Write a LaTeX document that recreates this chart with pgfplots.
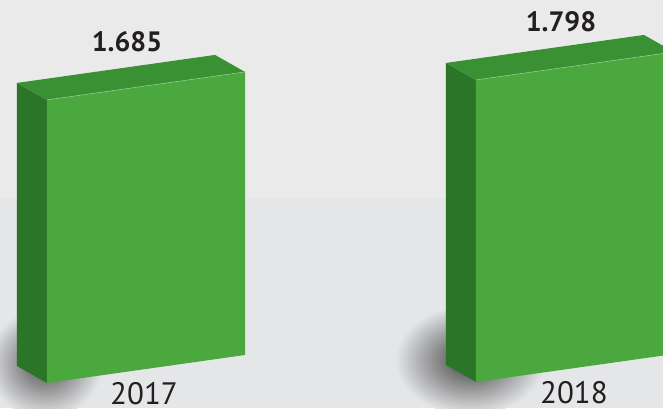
\documentclass[border=0pt]{standalone}
\usepackage{pgfplots}
\pgfplotsset{compat=1.18}
\usepackage{fontspec}
\setmainfont{PT Sans}
\usetikzlibrary{backgrounds,calc}
\definecolor{bgtop}{RGB}{234,234,235}
\definecolor{bgbot}{RGB}{229,230,232}
\definecolor{frontg}{RGB}{74,168,62}
\definecolor{sideg}{RGB}{42,117,39}
\definecolor{topg}{RGB}{58,145,52}
\definecolor{txt}{RGB}{35,31,32}

\begin{document}
\begin{tikzpicture}
\begin{axis}[
    x={(198pt,28pt)}, y={(-30pt,17pt)}, z={(0pt,168pt)},
    xmin=0, xmax=3, ymin=-3, ymax=1, zmin=0, zmax=2,
    hide axis,
    clip=false,
    nodes near coords style={anchor=base, yshift=26pt, inner sep=0pt,
        font=\bfseries\fontsize{28}{28}\selectfont, text=txt},
    /pgf/number format/.cd, fixed, precision=3, fixed zerofill, assume math mode=true,
]
\coordinate (O) at (axis cs:0,0,0);

% 2017 box
\addplot3[fill=sideg, draw=none] coordinates {(0,0,0) (0,1,0) (0,1,1.685) (0,0,1.685)};
\addplot3[fill=topg, draw=none] coordinates {(0,0,1.685) (1,0,1.685) (1,1,1.685) (0,1,1.685)};
\addplot3[fill=frontg, draw=none] coordinates {(0,0,0) (1,0,0) (1,0,1.685) (0,0,1.685)};
\addplot3[draw=frontg!60!white, line width=0.5pt] coordinates {(0,0,1.685) (1,0,1.685)};

% 2018 box
\addplot3[fill=sideg, draw=none] coordinates {(1.741,-2.809,0) (1.741,-1.809,0) (1.741,-1.809,1.798) (1.741,-2.809,1.798)};
\addplot3[fill=topg, draw=none] coordinates {(1.741,-2.809,1.798) (2.741,-2.809,1.798) (2.741,-1.809,1.798) (1.741,-1.809,1.798)};
\addplot3[fill=frontg, draw=none] coordinates {(1.741,-2.809,0) (2.741,-2.809,0) (2.741,-2.809,1.798) (1.741,-2.809,1.798)};
\addplot3[draw=frontg!60!white, line width=0.5pt] coordinates {(1.741,-2.809,1.798) (2.741,-2.809,1.798)};

% value labels
\addplot3[draw=none, mark=none, nodes near coords, point meta=z,
    every node near coord/.append style={xshift=-4pt}] coordinates {(0.5,0.5,1.685)};
\addplot3[draw=none, mark=none, nodes near coords, point meta=z,
    every node near coord/.append style={xshift=1pt}] coordinates {(2.241,-2.309,1.798)};

% year labels
\node[anchor=base, yshift=-35pt, xshift=-2pt, inner sep=0pt, text=txt, font=\fontsize{31}{31}\selectfont] at (axis cs:0.5,0,0) {2017};
\node[anchor=base, yshift=-35pt, xshift=-1pt, inner sep=0pt, text=txt, font=\fontsize{31}{31}\selectfont] at (axis cs:2.241,-2.809,0) {2018};
\end{axis}
\begin{scope}[on background layer]
  \fill[bgbot] ($(O)+(-47pt,-25pt)$) rectangle ++(663pt,210pt);
  \fill[bgtop] ($(O)+(-47pt,185pt)$) rectangle ++(663pt,198pt);
  % soft shadows
  \shade[inner color=black!70, outer color=bgbot] ($(O)+(-2pt,20pt)$) ellipse [x radius=58pt, y radius=55pt];
  \shade[inner color=black!75, outer color=bgbot] ($(O)+(423pt,23pt)$) ellipse [x radius=75pt, y radius=55pt];
\end{scope}
\pgfresetboundingbox
\path[use as bounding box] ($(O)+(-47pt,-25pt)$) rectangle ++(663pt,408pt);
\end{tikzpicture}
\end{document}
